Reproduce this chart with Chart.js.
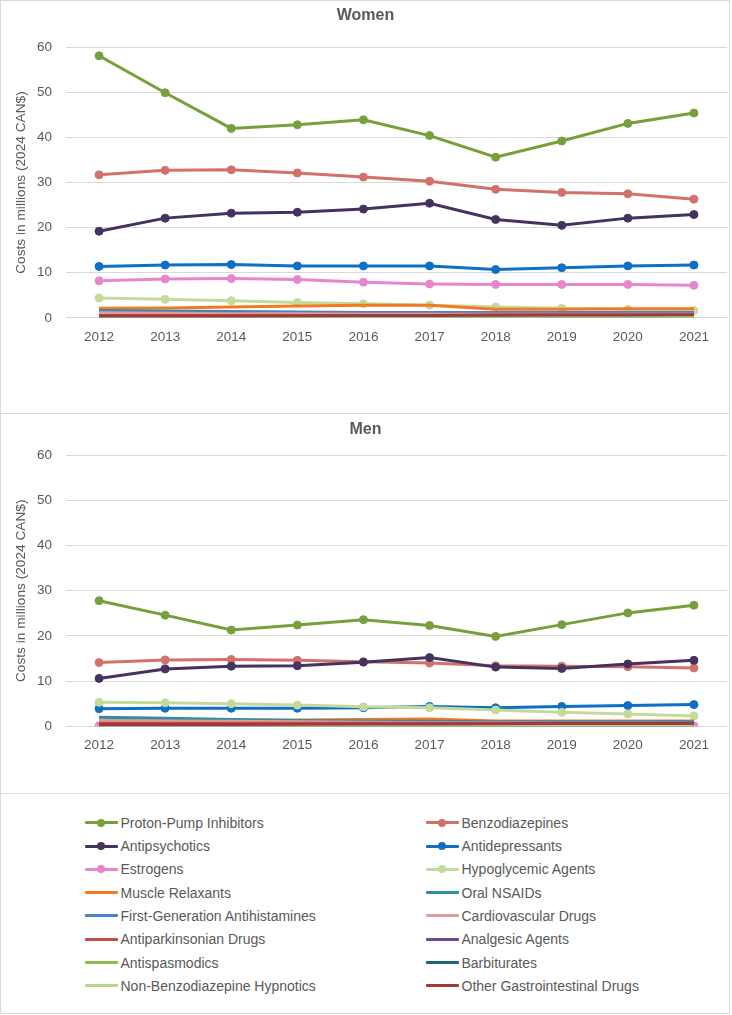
<!DOCTYPE html>
<html><head><meta charset="utf-8">
<script src="https://cdn.jsdelivr.net/npm/chart.js@4.4.0/dist/chart.umd.min.js"></script>
<style>
html,body{margin:0;padding:0;background:#fff;}
body{width:732px;height:1015px;position:relative;overflow:hidden;font-family:"Liberation Sans",Arial,sans-serif;}
.panel{position:absolute;left:0;width:730px;border:1px solid #d9d9d9;box-sizing:border-box;}
canvas{position:absolute;left:0;}
.lg-item{position:absolute;height:20px;}
.lg-line{position:absolute;width:33px;height:3px;left:0;top:8.5px;border-radius:1px;}
.lg-dot{position:absolute;width:8px;height:8px;border-radius:50%;left:12.5px;top:6px;}
.lg-text{position:absolute;left:36px;top:1px;font-size:14px;color:#595959;white-space:nowrap;line-height:18px;}
</style>
</head><body>
<div class="panel" style="top:0;height:414px;"></div>
<div class="panel" style="top:413px;height:381px;"></div>
<div class="panel" style="top:793px;height:221px;"></div>
<canvas id="women" width="732" height="413" style="top:0"></canvas>
<canvas id="men" width="732" height="380" style="top:413px"></canvas>
<div id="legend"></div>
<script>
const years = ['2012','2013','2014','2015','2016','2017','2018','2019','2020','2021'];
const yTicks = [0, 10, 20, 30, 40, 50, 60];
const seriesNames = ['Proton-Pump Inhibitors','Benzodiazepines','Antipsychotics','Antidepressants','Estrogens','Hypoglycemic Agents','Muscle Relaxants','Oral NSAIDs','First-Generation Antihistamines','Cardiovascular Drugs','Antiparkinsonian Drugs','Analgesic Agents','Antispasmodics','Barbiturates','Non-Benzodiazepine Hypnotics','Other Gastrointestinal Drugs'];
const seriesColors = ['#77A03B','#D2716C','#45325E','#0E6FC5','#E886CB','#C3DA9C','#F47A1F','#2F8CA6','#4D7FC6','#E39B9A','#C24E4C','#6A4C94','#8DBB4C','#1E6379','#B5D58C','#A23939'];
const withMarkers = [true,true,true,true,true,true,false,false,false,false,false,false,false,false,false,false];

// Women values (millions, 2024 CAN$)
const womenPPI = [58.1, 49.9, 42.0, 42.8, 43.9, 40.4, 35.6, 39.2, 43.1, 45.4];
const womenBenzo = [31.7, 32.7, 32.8, 32.1, 31.2, 30.3, 28.5, 27.8, 27.5, 26.3];
const womenAntipsychotics = [19.2, 22.1, 23.2, 23.4, 24.1, 25.4, 21.8, 20.5, 22.1, 22.9];
const womenAntidepressants = [11.4, 11.7, 11.8, 11.5, 11.5, 11.5, 10.7, 11.1, 11.5, 11.7];
const womenEstrogens = [8.2, 8.6, 8.7, 8.5, 7.9, 7.5, 7.4, 7.4, 7.4, 7.2];
const womenHypoglycemic = [4.4, 4.1, 3.8, 3.4, 3.1, 2.8, 2.4, 2.1, 1.9, 1.6];
const womenMuscle = [2.1, 2.2, 2.4, 2.6, 2.8, 2.8, 1.9, 1.9, 2.0, 2.0];
const womenNSAIDs = [1.6, 1.5, 1.4, 1.3, 1.2, 1.2, 1.1, 1.1, 1.0, 1.0];
const womenAntihistamines = [1.3, 1.3, 1.2, 1.2, 1.2, 1.2, 1.2, 1.2, 1.2, 1.2];
const womenCardio = [1.1, 1.0, 0.9, 0.9, 0.8, 0.8, 0.8, 0.8, 0.8, 0.8];
const womenAntiparkinsonian = [0.5, 0.5, 0.5, 0.5, 0.5, 0.5, 0.6, 0.6, 0.6, 0.6];
const womenAnalgesic = [0.3, 0.3, 0.3, 0.3, 0.3, 0.3, 0.3, 0.3, 0.3, 0.3];
const womenAntispasmodics = [0.1, 0.1, 0.1, 0.1, 0.1, 0.1, 0.1, 0.1, 0.1, 0.1];
const womenBarbiturates = [0.2, 0.2, 0.2, 0.2, 0.2, 0.2, 0.2, 0.2, 0.2, 0.2];
const womenNonBenzo = [0.1, 0.1, 0.1, 0.1, 0.1, 0.1, 0.1, 0.1, 0.1, 0.1];
const womenOtherGI = [0.4, 0.4, 0.4, 0.45, 0.5, 0.5, 0.55, 0.6, 0.6, 0.7];

// Men values (millions, 2024 CAN$)
const menPPI = [27.8, 24.6, 21.3, 22.4, 23.6, 22.3, 19.9, 22.5, 25.1, 26.8];
const menBenzo = [14.1, 14.7, 14.8, 14.6, 14.3, 14.0, 13.4, 13.3, 13.2, 12.9];
const menAntipsychotics = [10.6, 12.7, 13.3, 13.4, 14.2, 15.2, 13.1, 12.8, 13.8, 14.6];
const menAntidepressants = [3.9, 4.0, 4.0, 4.0, 4.1, 4.4, 4.1, 4.4, 4.6, 4.8];
const menEstrogens = [0.1, 0.1, 0.1, 0.1, 0.1, 0.1, 0.1, 0.1, 0.1, 0.1];
const menHypoglycemic = [5.3, 5.2, 5.0, 4.7, 4.3, 4.1, 3.6, 3.1, 2.7, 2.3];
const menMuscle = [1.4, 1.4, 1.4, 1.4, 1.5, 1.6, 1.2, 1.2, 1.2, 1.2];
const menNSAIDs = [2.0, 1.8, 1.5, 1.3, 1.2, 1.1, 1.0, 1.0, 1.0, 1.0];
const menAntihistamines = [1.2, 1.1, 1.0, 1.0, 0.9, 0.9, 0.9, 0.9, 0.9, 0.9];
const menCardio = [1.3, 1.2, 1.1, 1.0, 0.9, 0.8, 0.8, 0.7, 0.7, 0.6];
const menAntiparkinsonian = [0.7, 0.7, 0.7, 0.7, 0.7, 0.7, 0.7, 0.7, 0.7, 0.7];
const menAnalgesic = [0.3, 0.3, 0.3, 0.3, 0.3, 0.3, 0.3, 0.3, 0.3, 0.3];
const menAntispasmodics = [0.1, 0.1, 0.1, 0.1, 0.1, 0.1, 0.1, 0.1, 0.1, 0.1];
const menBarbiturates = [0.2, 0.2, 0.2, 0.2, 0.2, 0.2, 0.2, 0.2, 0.2, 0.2];
const menNonBenzo = [0.1, 0.1, 0.1, 0.1, 0.1, 0.1, 0.1, 0.1, 0.1, 0.1];
const menOtherGI = [0.4, 0.4, 0.4, 0.45, 0.5, 0.5, 0.55, 0.6, 0.6, 0.6];

const womenSeries = [womenPPI, womenBenzo, womenAntipsychotics, womenAntidepressants, womenEstrogens, womenHypoglycemic, womenMuscle, womenNSAIDs, womenAntihistamines, womenCardio, womenAntiparkinsonian, womenAnalgesic, womenAntispasmodics, womenBarbiturates, womenNonBenzo, womenOtherGI];
const menSeries = [menPPI, menBenzo, menAntipsychotics, menAntidepressants, menEstrogens, menHypoglycemic, menMuscle, menNSAIDs, menAntihistamines, menCardio, menAntiparkinsonian, menAnalgesic, menAntispasmodics, menBarbiturates, menNonBenzo, menOtherGI];

const TEXT = '#595959';
const FONT = '"Liberation Sans", Arial, sans-serif';

function makeChart(id, title, series, titleTop, titleBottom, padBottom) {
  const datasets = series.map((vals, i) => ({
    label: seriesNames[i],
    data: vals,
    borderColor: seriesColors[i],
    backgroundColor: seriesColors[i],
    borderWidth: 3,
    pointRadius: withMarkers[i] ? 4 : 0,
    pointBorderWidth: 1,
    pointBackgroundColor: seriesColors[i],
    pointBorderColor: seriesColors[i],
    tension: 0,
    order: -i
  }));
  return new Chart(document.getElementById(id), {
    type: 'line',
    data: { labels: years, datasets },
    options: {
      responsive: false,
      animation: false,
      devicePixelRatio: 1,
      layout: { padding: { left: 0, right: 1, top: 0, bottom: padBottom } },
      plugins: {
        legend: { display: false },
        tooltip: { enabled: false },
        title: {
          display: true, text: title, color: TEXT,
          font: { family: FONT, size: 16, weight: 'bold', lineHeight: 1.2 },
          padding: { top: titleTop, bottom: titleBottom }
        }
      },
      scales: {
        x: {
          offset: true,
          grid: { display: false, drawTicks: false },
          border: { display: false },
          ticks: { color: TEXT, font: { family: FONT, size: 13.5, lineHeight: 1.2 }, padding: 11, maxRotation: 0, autoSkip: false }
        },
        y: {
          min: yTicks[0], max: yTicks[yTicks.length - 1],
          afterFit: (axis) => { axis.width = 66; },
          afterBuildTicks: (axis) => { axis.ticks = yTicks.map(v => ({ value: v })); },
          grid: { color: '#D9D9D9', lineWidth: 1, drawTicks: false },
          border: { display: false },
          ticks: { color: TEXT, font: { family: FONT, size: 13.5, lineHeight: 1.2 }, padding: 14 },
          title: {
            display: true, text: 'Costs in millions (2024 CAN$)', color: TEXT,
            font: { family: FONT, size: 13.7, lineHeight: 1.2 },
            padding: { top: 13, bottom: 0 }
          }
        }
      }
    }
  });
}

makeChart('women', 'Women', womenSeries, 6, 22, 57);
makeChart('men', 'Men', menSeries, 7, 16, 28.5);

// HTML legend
const legend = document.getElementById('legend');
seriesNames.forEach((name, i) => {
  const col = i % 2, row = Math.floor(i / 2);
  const item = document.createElement('div');
  item.className = 'lg-item';
  item.style.left = (col === 0 ? 84.5 : 425.5) + 'px';
  item.style.top = (822.7 + row * 23.3 - 10) + 'px';
  const line = document.createElement('div');
  line.className = 'lg-line';
  line.style.background = seriesColors[i];
  item.appendChild(line);
  if (withMarkers[i]) {
    const dot = document.createElement('div');
    dot.className = 'lg-dot';
    dot.style.background = seriesColors[i];
    item.appendChild(dot);
  }
  const t = document.createElement('div');
  t.className = 'lg-text';
  t.textContent = name;
  item.appendChild(t);
  legend.appendChild(item);
});
</script>
</body></html>
